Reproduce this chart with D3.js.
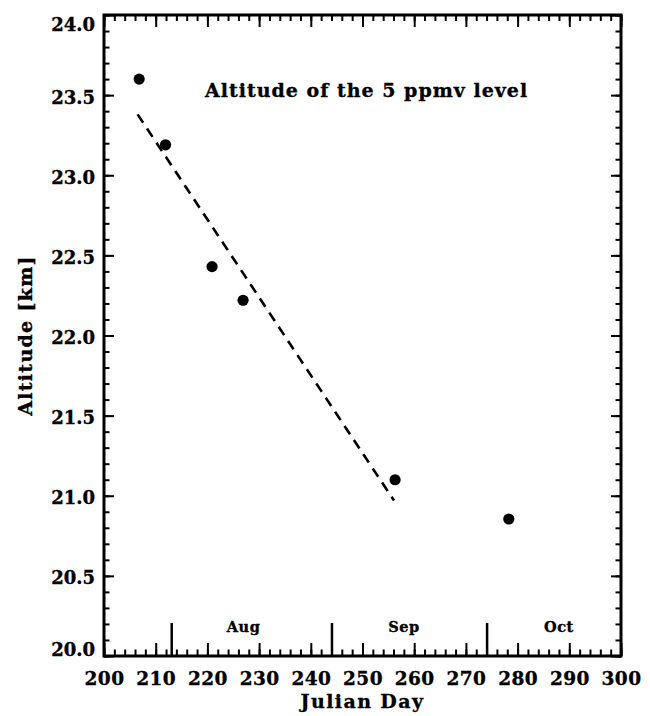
<!DOCTYPE html>
<html>
<head>
<meta charset="utf-8">
<script src="https://cdn.jsdelivr.net/npm/d3@7"></script>
<style>
  html, body { margin: 0; padding: 0; background: #fff; }
  svg { display: block; }
  text { font-family: "DejaVu Serif", serif; font-weight: bold; fill: #000; stroke: #000; stroke-width: 0.35px; }
</style>
</head>
<body>
<svg id="chart" width="650" height="716"></svg>
<script>
// ---- data ----
const obsDays      = [206.8, 211.9, 220.9, 226.9, 256.3, 278.3];
const obsAltitudes = [23.60, 23.19, 22.43, 22.22, 21.10, 20.855];
const fitDays      = [206.5, 256.1];
const fitAltitudes = [23.38, 20.97];
const xTickLabels  = [200, 210, 220, 230, 240, 250, 260, 270, 280, 290, 300];
const yTickLabels  = [20.0, 20.5, 21.0, 21.5, 22.0, 22.5, 23.0, 23.5, 24.0];
const monthNames   = ["Aug", "Sep", "Oct"];
const monthStarts  = [213, 244, 274];
const monthLabelDays = [227, 258, 288];
const titleText  = "Altitude of the 5 ppmv level";
const xAxisTitle = "Julian Day";
const yAxisTitle = "Altitude [km]";

// ---- layout ----
const L = 104, R = 621, T = 15, B = 656;
const svg = d3.select("#chart");
const x = d3.scaleLinear().domain([200, 300]).range([L, R]);
const y = d3.scaleLinear().domain([20, 24]).range([B, T]);

const xMinor = d3.range(200, 301, 2);
const yMinor = d3.range(200, 241, 1).map(v => v / 10);

function styleAxis(g, w) {
  g.select(".domain").remove();
  g.selectAll(".tick line").attr("stroke", "#000").attr("stroke-width", w);
}

// bottom axis
svg.append("g").attr("transform", `translate(0,${B})`)
  .call(d3.axisBottom(x).tickValues(xMinor).tickSize(-6.5).tickFormat(""))
  .call(g => styleAxis(g, 2));
svg.append("g").attr("transform", `translate(0,${B})`)
  .call(d3.axisBottom(x).tickValues(xTickLabels).tickSize(-13).tickPadding(16).tickFormat(d3.format("d")))
  .call(g => styleAxis(g, 2))
  .call(g => g.selectAll("text").style("font-size", "18.5px").style("letter-spacing", "0.4px").attr("fill", "#000"));
svg.append("g").attr("transform", `translate(0,${B})`)
  .call(d3.axisBottom(x).tickValues(monthStarts).tickSize(-33).tickFormat(""))
  .call(g => styleAxis(g, 2.5));

// top axis
svg.append("g").attr("transform", `translate(0,${T})`)
  .call(d3.axisTop(x).tickValues(xMinor).tickSize(-6).tickFormat(""))
  .call(g => styleAxis(g, 2));
svg.append("g").attr("transform", `translate(0,${T})`)
  .call(d3.axisTop(x).tickValues(xTickLabels).tickSize(-12).tickFormat(""))
  .call(g => styleAxis(g, 2));

// left axis
svg.append("g").attr("transform", `translate(${L},0)`)
  .call(d3.axisLeft(y).tickValues(yMinor).tickSize(-5.5).tickFormat(""))
  .call(g => styleAxis(g, 2));
const yl = svg.append("g").attr("transform", `translate(${L},0)`)
  .call(d3.axisLeft(y).tickValues(yTickLabels).tickSize(-10).tickPadding(9).tickFormat(d3.format(".1f")))
  .call(g => styleAxis(g, 2));
yl.selectAll("text").style("font-size", "18px").attr("fill", "#000")
  .attr("dy", d => d === 24 ? "0.85em" : (d === 20 ? "-0.05em" : "0.45em"));

// right axis
svg.append("g").attr("transform", `translate(${R},0)`)
  .call(d3.axisRight(y).tickValues(yMinor).tickSize(-5.5).tickFormat(""))
  .call(g => styleAxis(g, 2));
svg.append("g").attr("transform", `translate(${R},0)`)
  .call(d3.axisRight(y).tickValues(yTickLabels).tickSize(-10).tickFormat(""))
  .call(g => styleAxis(g, 2));

// frame
svg.append("rect")
  .attr("x", x(200)).attr("y", y(24))
  .attr("width", x(300) - x(200)).attr("height", y(20) - y(24))
  .attr("fill", "none").attr("stroke", "#000").attr("stroke-width", 3);

// month labels
svg.append("g").selectAll("text").data(monthNames).join("text")
  .attr("x", (d, i) => x(monthLabelDays[i]))
  .attr("y", B - 24)
  .attr("text-anchor", "middle")
  .style("font-size", "14.5px")
  .style("letter-spacing", "0.5px")
  .text(d => d);

// fit line
svg.append("path")
  .datum(fitDays.map((d, i) => [d, fitAltitudes[i]]))
  .attr("d", d3.line().x(d => x(d[0])).y(d => y(d[1])))
  .attr("fill", "none").attr("stroke", "#000")
  .attr("stroke-width", 2.6).attr("stroke-dasharray", "10,7");

// points
svg.append("g").selectAll("circle").data(obsDays).join("circle")
  .attr("cx", d => x(d))
  .attr("cy", (d, i) => y(obsAltitudes[i]))
  .attr("r", 5.6).attr("fill", "#000");

// title
svg.append("text")
  .attr("x", 205).attr("y", 97)
  .style("font-size", "19px")
  .style("letter-spacing", "1px")
  .text(titleText);

// axis titles
svg.append("text")
  .attr("x", (L + R) / 2).attr("y", 708)
  .attr("text-anchor", "middle")
  .style("font-size", "19px")
  .style("letter-spacing", "1.4px")
  .text(xAxisTitle);
svg.append("text")
  .attr("transform", `translate(32,${(T + B) / 2}) rotate(-90)`)
  .attr("text-anchor", "middle")
  .style("font-size", "19px")
  .style("letter-spacing", "1.3px")
  .text(yAxisTitle);
</script>
</body>
</html>
